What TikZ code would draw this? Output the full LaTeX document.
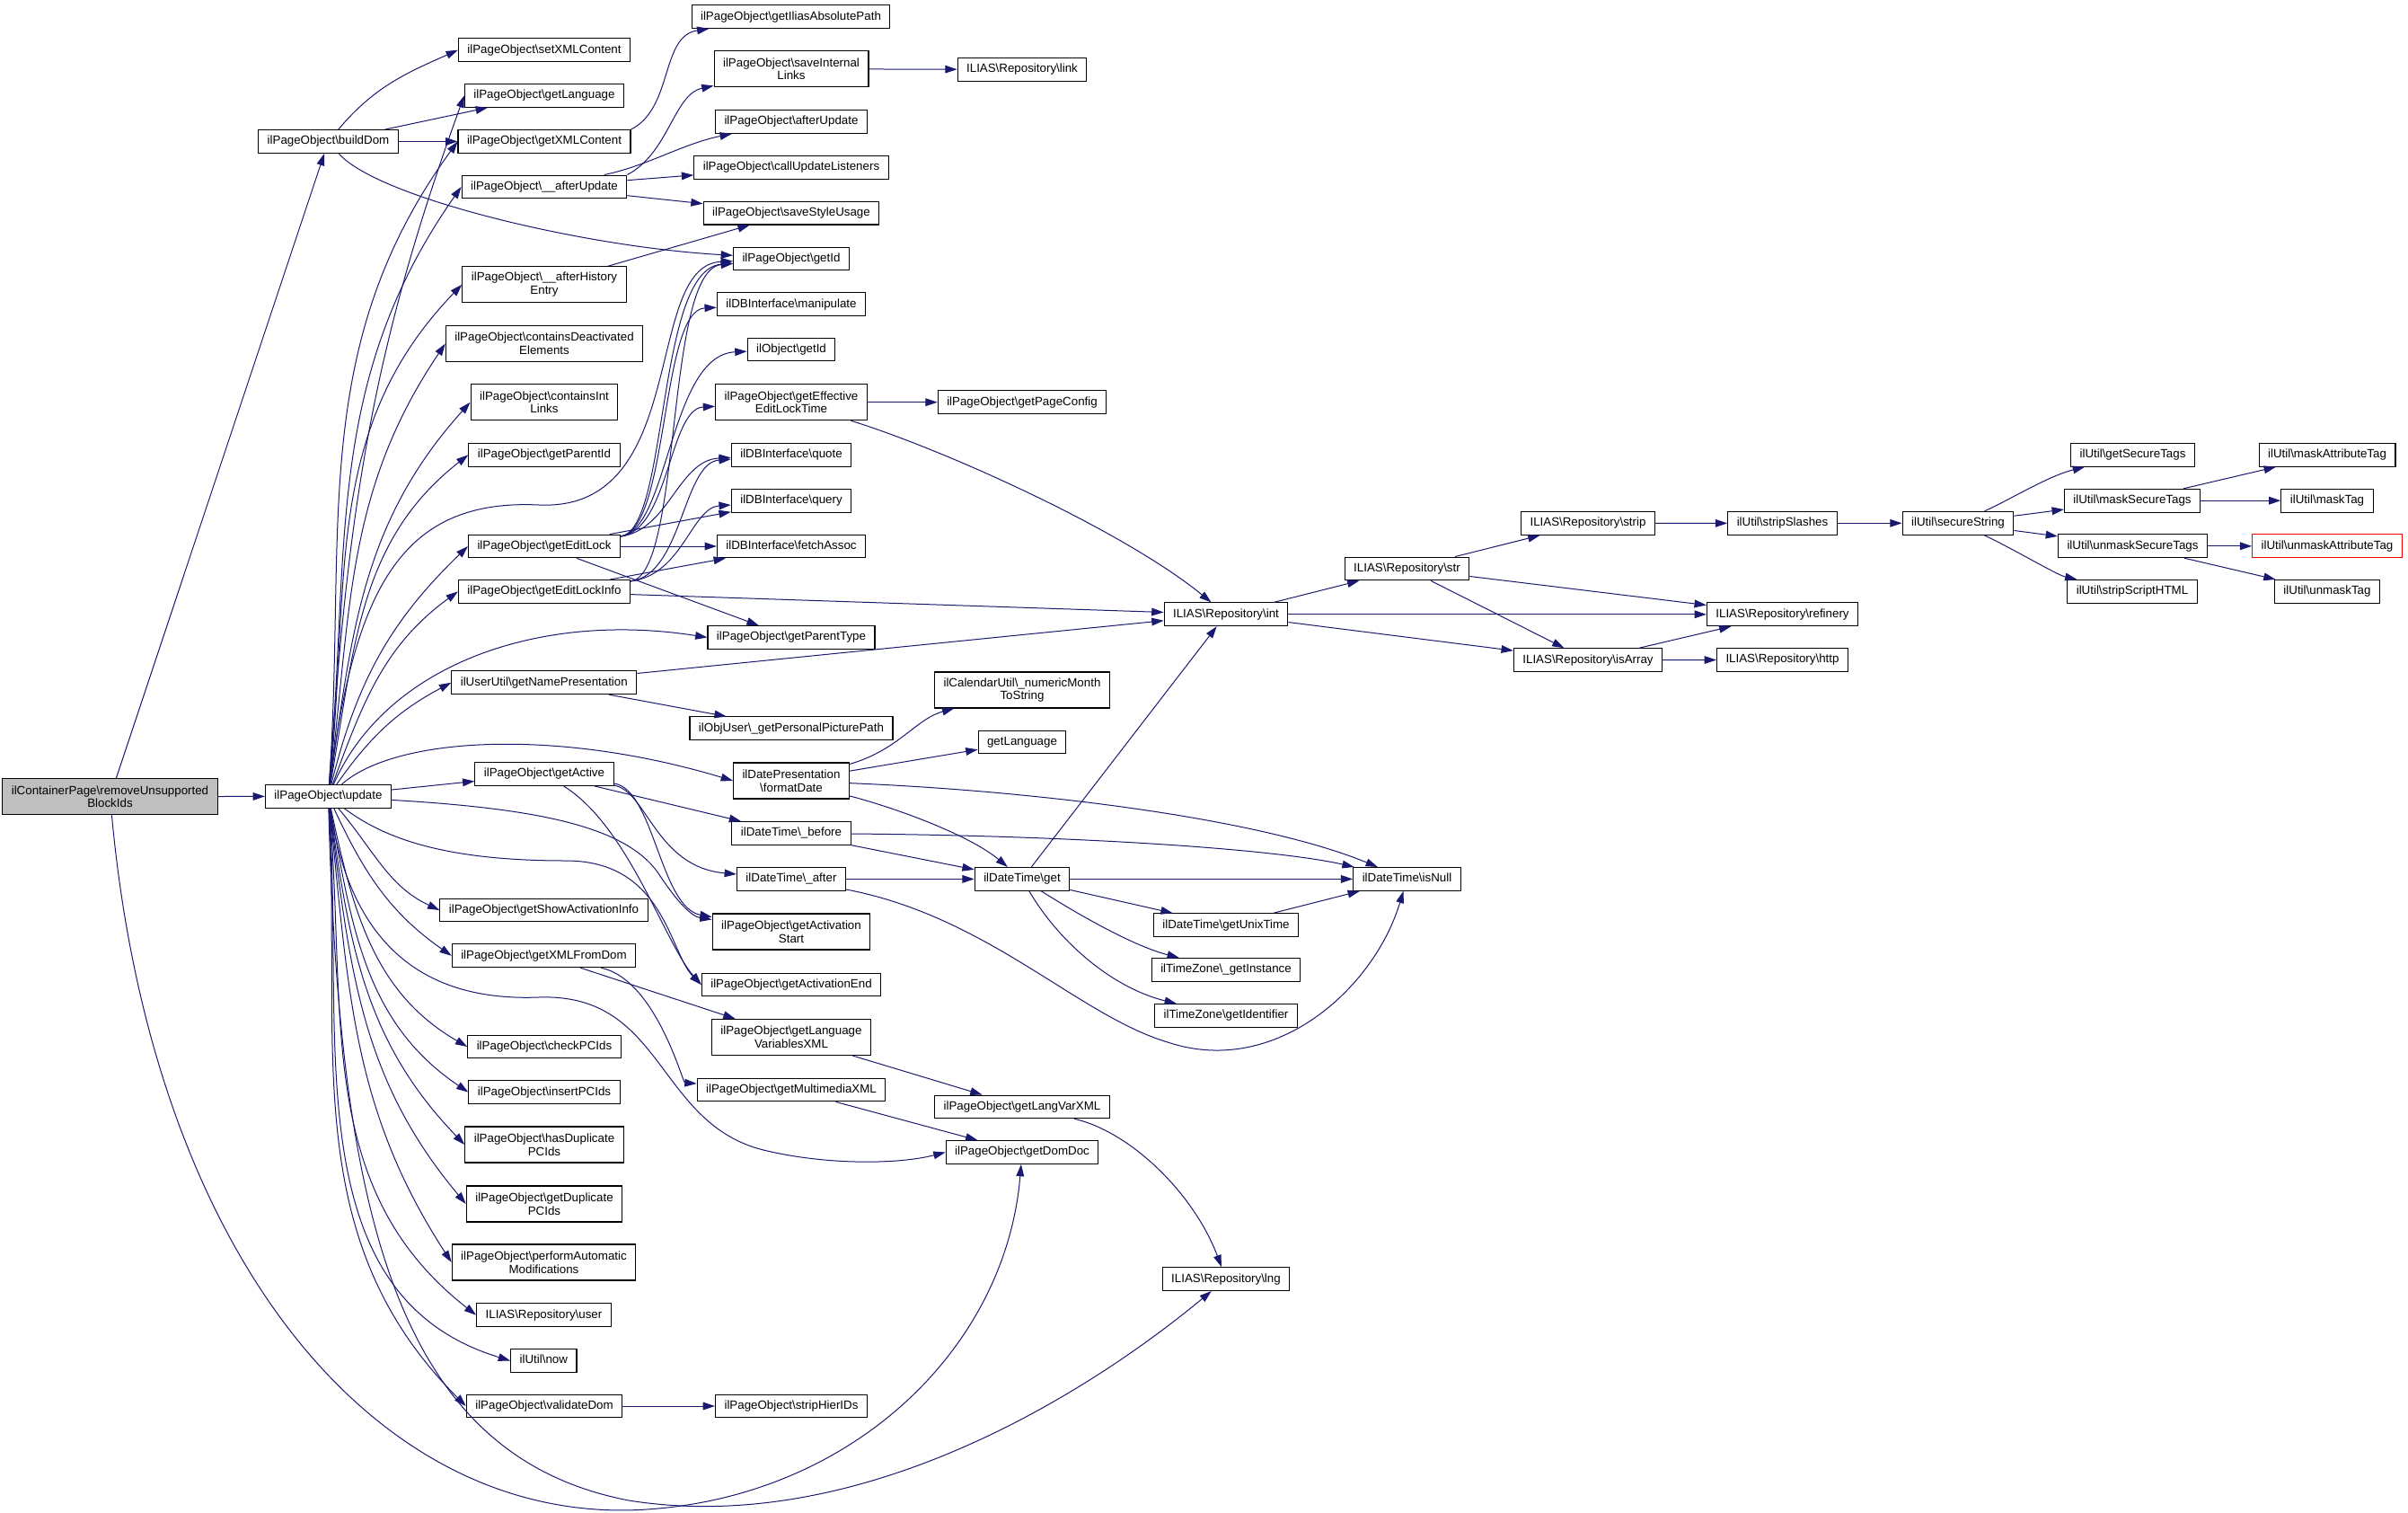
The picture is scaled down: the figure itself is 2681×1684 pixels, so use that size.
\documentclass[tikz,border=0pt]{standalone}
\usepackage{fontspec}
\setmainfont{Liberation Sans}
\usetikzlibrary{arrows.meta}
\definecolor{edgeblue}{RGB}{25,25,112}
\definecolor{rootgray}{RGB}{191,191,191}
\newcommand{\bsl}{\textbackslash}
\begin{document}
\begin{tikzpicture}[x=0.75pt,y=0.75pt,
    fn/.style={draw=black,line width=0.8pt,font=\fontsize{10}{11}\selectfont,inner xsep=7.5pt,inner ysep=2pt,minimum height=19.3pt,text height=7.4pt,text depth=2.2pt},
    fntwo/.style={draw=black,line width=0.8pt,font=\fontsize{10}{11}\selectfont,inner xsep=7.5pt,inner ysep=2pt,minimum height=30pt,align=center},
    call/.style={draw=edgeblue,line width=0.75pt,-{Triangle[length=10pt,width=6.5pt]}}]
      \useasboundingbox (0,0) rectangle (2681,-1684);
      \begin{scope}[every node/.style={fntwo}]
        \node[fill=rootgray] (r_remove) at (122.5,-886.7) {ilContainerPage\bsl{}removeUnsupported\\BlockIds};
        \node (p_afterhist) at (606,-316.8) {ilPageObject\bsl\_\_afterHistory\\Entry};
        \node (p_containsdeact) at (606,-382.5) {ilPageObject\bsl{}containsDeactivated\\Elements};
        \node (p_containsint) at (606,-447.7) {ilPageObject\bsl{}containsInt\\Links};
        \node (p_hasdup) at (606,-1274) {ilPageObject\bsl{}hasDuplicate\\PCIds};
        \node (p_getdup) at (606,-1340) {ilPageObject\bsl{}getDuplicate\\PCIds};
        \node (p_performauto) at (605.5,-1405) {ilPageObject\bsl{}performAutomatic\\Modifications};
        \node (p_saveintlinks) at (881,-76.8) {ilPageObject\bsl{}saveInternal\\Links};
        \node (p_geteffective) at (881,-447.7) {ilPageObject\bsl{}getEffective\\EditLockTime};
        \node (dp_formatdate) at (881,-869) {ilDatePresentation\\\bsl{}formatDate};
        \node (p_getactstart) at (881,-1037) {ilPageObject\bsl{}getActivation\\Start};
        \node (p_getlangvars) at (881,-1154.4) {ilPageObject\bsl{}getLanguage\\VariablesXML};
        \node (cu_nummonth) at (1138,-768) {ilCalendarUtil\bsl\_numericMonth\\ToString};
      \end{scope}
      \begin{scope}[every node/.style={fn}]
        \node (p_builddom) at (365.5,-157.5) {ilPageObject\bsl{}buildDom};
        \node (p_update) at (365.5,-886.3) {ilPageObject\bsl{}update};
        \node (p_setxmlcontent) at (606,-55.7) {ilPageObject\bsl{}setXMLContent};
        \node (p_getlanguage) at (606,-106.4) {ilPageObject\bsl{}getLanguage};
        \node (p_getxmlcontent) at (606,-157.5) {ilPageObject\bsl{}getXMLContent};
        \node (p_afterupd) at (606,-207.9) {ilPageObject\bsl\_\_afterUpdate};
        \node (p_getparentid) at (606,-506.3) {ilPageObject\bsl{}getParentId};
        \node (p_geteditlock) at (606,-608) {ilPageObject\bsl{}getEditLock};
        \node (p_geteditlockinfo) at (606,-658.4) {ilPageObject\bsl{}getEditLockInfo};
        \node (uu_getname) at (605.8,-759.8) {ilUserUtil\bsl{}getNamePresentation};
        \node (p_getactive) at (606,-861.5) {ilPageObject\bsl{}getActive};
        \node (p_getshowact) at (605.5,-1013) {ilPageObject\bsl{}getShowActivationInfo};
        \node (p_getxmlfromdom) at (605.5,-1063.8) {ilPageObject\bsl{}getXMLFromDom};
        \node (p_checkpcids) at (606,-1165) {ilPageObject\bsl{}checkPCIds};
        \node (p_insertpcids) at (606,-1215.6) {ilPageObject\bsl{}insertPCIds};
        \node (r_user) at (605.5,-1463.7) {ILIAS\bsl{}Repository\bsl{}user};
        \node (u_now) at (605.3,-1514.5) {ilUtil\bsl{}now};
        \node (p_validatedom) at (606,-1565) {ilPageObject\bsl{}validateDom};
        \node (p_getiliaspath) at (880.5,-18.6) {ilPageObject\bsl{}getIliasAbsolutePath};
        \node (p_afterupdate) at (881,-135.5) {ilPageObject\bsl{}afterUpdate};
        \node (p_callupdate) at (881,-186.4) {ilPageObject\bsl{}callUpdateListeners};
        \node (p_savestyle) at (881,-237.1) {ilPageObject\bsl{}saveStyleUsage};
        \node (p_getid) at (881,-287.9) {ilPageObject\bsl{}getId};
        \node (db_manipulate) at (881,-338.6) {ilDBInterface\bsl{}manipulate};
        \node (o_getid) at (881,-389) {ilObject\bsl{}getId};
        \node (db_quote) at (881,-506.3) {ilDBInterface\bsl{}quote};
        \node (db_query) at (881,-557.4) {ilDBInterface\bsl{}query};
        \node (db_fetchassoc) at (881,-608) {ilDBInterface\bsl{}fetchAssoc};
        \node (p_getparenttype) at (881,-709.5) {ilPageObject\bsl{}getParentType};
        \node (ou_getpic) at (881,-810.8) {ilObjUser\bsl\_getPersonalPicturePath};
        \node (dt_before) at (881,-927.5) {ilDateTime\bsl\_before};
        \node (dt_after) at (881,-978.4) {ilDateTime\bsl\_after};
        \node (p_getactend) at (881,-1096) {ilPageObject\bsl{}getActivationEnd};
        \node (p_getmedia) at (881,-1213) {ilPageObject\bsl{}getMultimediaXML};
        \node (p_striphier) at (881,-1565) {ilPageObject\bsl{}stripHierIDs};
        \node (r_link) at (1138,-77.3) {ILIAS\bsl{}Repository\bsl{}link};
        \node (p_getpageconfig) at (1138,-447.7) {ilPageObject\bsl{}getPageConfig};
        \node (x_getlanguage) at (1138,-826) {getLanguage};
        \node (dt_get) at (1138,-978.4) {ilDateTime\bsl{}get};
        \node (p_getlangvar) at (1138,-1231.9) {ilPageObject\bsl{}getLangVarXML};
        \node (p_getdomdoc) at (1138,-1282.5) {ilPageObject\bsl{}getDomDoc};
        \node (r_int) at (1365,-683.8) {ILIAS\bsl{}Repository\bsl{}int};
        \node (dt_getunix) at (1365,-1029.7) {ilDateTime\bsl{}getUnixTime};
        \node (tz_getinstance) at (1365,-1079.4) {ilTimeZone\bsl\_getInstance};
        \node (tz_getident) at (1365,-1130.4) {ilTimeZone\bsl{}getIdentifier};
        \node (r_lng) at (1365,-1423.6) {ILIAS\bsl{}Repository\bsl{}lng};
        \node (r_str) at (1566.5,-633) {ILIAS\bsl{}Repository\bsl{}str};
        \node (dt_isnull) at (1566.5,-978.4) {ilDateTime\bsl{}isNull};
        \node (r_strip) at (1768,-582.5) {ILIAS\bsl{}Repository\bsl{}strip};
        \node (r_isarray) at (1768,-734.6) {ILIAS\bsl{}Repository\bsl{}isArray};
        \node (u_stripslashes) at (1984.5,-582.3) {ilUtil\bsl{}stripSlashes};
        \node (r_refinery) at (1984.5,-683.8) {ILIAS\bsl{}Repository\bsl{}refinery};
        \node (r_http) at (1984.5,-734.5) {ILIAS\bsl{}Repository\bsl{}http};
        \node (u_securestring) at (2180,-582.3) {ilUtil\bsl{}secureString};
        \node (u_getsecure) at (2374.5,-506.3) {ilUtil\bsl{}getSecureTags};
        \node (u_masksecure) at (2374,-557.2) {ilUtil\bsl{}maskSecureTags};
        \node (u_unmasksecure) at (2374.5,-607.8) {ilUtil\bsl{}unmaskSecureTags};
        \node (u_stripscript) at (2374,-658.3) {ilUtil\bsl{}stripScriptHTML};
        \node (u_maskattr) at (2591,-506.3) {ilUtil\bsl{}maskAttributeTag};
        \node (u_masktag) at (2591,-557.2) {ilUtil\bsl{}maskTag};
        \node[draw=red] (u_unmaskattr) at (2591,-607.8) {ilUtil\bsl{}unmaskAttributeTag};
        \node (u_unmasktag) at (2591,-658.3) {ilUtil\bsl{}unmaskTag};
      \end{scope}
      \begin{scope}[every edge/.style={call}]
        \path (r_remove) edge (p_update);
        \path (r_remove) edge (p_builddom);

        \path (p_builddom) edge[out=50,in=204] (p_setxmlcontent.west);
        \path (p_builddom) edge (p_getlanguage);
        \path (p_builddom) edge (p_getxmlcontent);

        \path (p_update) edge[out=86,in=250] (p_getlanguage.west);
        \path (p_update) edge[out=86,in=234] (p_getxmlcontent.west);
        \path (p_update) edge[out=85,in=235] (p_afterupd.west);
        \path (p_update) edge[out=84,in=226] (p_afterhist.west);
        \path (p_update) edge[out=83,in=236] (p_containsdeact.west);
        \path (p_update) edge[out=82,in=228] (p_containsint.west);
        \path (p_update) edge[out=80,in=218] (p_getparentid.west);
        \path (p_update) edge[out=76,in=224] (p_geteditlock.west);
        \path (p_update) edge[out=70,in=216] (p_geteditlockinfo.west);
        \path (p_update) edge[out=55,in=208] (uu_getname.west);
        \path (p_update) edge (p_getactive);
        \path (p_update) edge[out=-50,in=155] (p_getshowact.west);
        \path (p_update) edge[out=-65,in=145] (p_getxmlfromdom.west);
        \path (p_update) edge[out=-78,in=150] (p_checkpcids.west);
        \path (p_update) edge[out=-80,in=146] (p_insertpcids.west);
        \path (p_update) edge[out=-82,in=134] (p_hasdup.west);
        \path (p_update) edge[out=-83,in=130] (p_getdup.west);
        \path (p_update) edge[out=-84,in=123] (p_performauto.west);
        \path (p_update) edge[out=-85,in=142] (r_user.west);
        \path (p_update) edge[out=-86,in=163] (u_now.west);
        \path (p_update) edge[out=-87,in=135] (p_validatedom.west);

        \path (p_afterupd) edge (p_callupdate);
        \path (p_afterupd) edge (p_savestyle);
        \path (p_afterhist) edge (p_savestyle);
        \path (p_saveintlinks) edge (r_link);
        \path (p_geteffective) edge (p_getpageconfig);
        \path (p_geteditlock) edge (db_query);
        \path (p_geteditlock) edge (db_fetchassoc);
        \path (p_geteditlock) edge (p_getparenttype);
        \path (p_geteditlockinfo) edge (db_fetchassoc);
        \path (p_geteditlockinfo) edge (r_int);
        \path (uu_getname) edge (ou_getpic);
        \path (uu_getname) edge (r_int);
        \path (p_getactive) edge (dt_before);
        \path (dp_formatdate) edge (x_getlanguage);
        \path (dt_before) edge (dt_get);
        \path (dt_after) edge (dt_get);
        \path (dt_get) edge (r_int);
        \path (dt_get) edge (dt_isnull);
        \path (dt_get) edge (dt_getunix);
        \path (dt_getunix) edge (dt_isnull);
        \path (p_getxmlfromdom) edge (p_getlangvars);
        \path (p_getlangvars) edge (p_getlangvar);
        \path (p_getmedia) edge (p_getdomdoc);
        \path (p_validatedom) edge (p_striphier);

        \path (r_int) edge (r_str);
        \path (r_int) edge (r_refinery);
        \path (r_int) edge (r_isarray);
        \path (r_str) edge (r_strip);
        \path (r_str) edge (r_refinery);
        \path (r_str) edge (r_isarray);
        \path (r_strip) edge (u_stripslashes);
        \path (u_stripslashes) edge (u_securestring);
        \path (u_securestring) edge (u_masksecure);
        \path (u_securestring) edge (u_unmasksecure);
        \path (u_masksecure) edge (u_maskattr);
        \path (u_masksecure) edge (u_masktag);
        \path (u_unmasksecure) edge (u_unmaskattr);
        \path (u_unmasksecure) edge (u_unmasktag);
        \path (r_isarray) edge (r_refinery);
        \path (r_isarray) edge (r_http);
      \end{scope}
      \begin{scope}
        \draw[call] (r_remove) .. controls (170,-1400) and (420,-1700) .. (720,-1680) .. controls (950,-1665) and (1120,-1500) .. (p_getdomdoc);
        \draw[call] (p_update) .. controls (378,-1350) and (440,-1620) .. (700,-1670) .. controls (950,-1710) and (1200,-1560) .. (r_lng);
        \draw[call] (p_update) .. controls (390,-1050) and (470,-1115) .. (600,-1110) .. controls (740,-1105) and (730,-1250) .. (850,-1280) .. controls (920,-1297) and (1000,-1296) .. (p_getdomdoc.west);
        \draw[call] (p_update) .. controls (395,-650) and (450,-555) .. (600,-562) .. controls (770,-570) and (715,-295) .. (p_getid);
        \draw[call] (p_update) .. controls (430,-740) and (600,-680) .. (p_getparenttype.west);
        \draw[call] (p_update) .. controls (440,-820) and (620,-810) .. (dp_formatdate.west);
        \draw[call] (p_update) .. controls (600,-900) and (700,-920) .. (735,-975) .. controls (755,-1005) and (770,-1020) .. (p_getactstart);
        \draw[call] (p_update) .. controls (430,-935) and (500,-958) .. (630,-958) .. controls (740,-958) and (745,-1060) .. (p_getactend.west);

        \draw[call] (p_builddom) .. controls (420,-220) and (650,-275) .. (p_getid);
        \draw[call] (p_getxmlcontent.north east) .. controls (750,-120) and (735,-40) .. (p_getiliaspath);
        \draw[call] (p_afterupd.north east) .. controls (745,-170) and (750,-105) .. (p_saveintlinks);
        \draw[call] (p_afterupd) .. controls (720,-185) and (760,-160) .. (p_afterupdate);

        \draw[call] (p_geteditlock) .. controls (745,-590) and (730,-300) .. (p_getid);
        \draw[call] (p_geteditlock) .. controls (745,-590) and (735,-345) .. (db_manipulate);
        \draw[call] (p_geteditlock) .. controls (745,-590) and (745,-395) .. (o_getid);
        \draw[call] (p_geteditlock) .. controls (745,-590) and (745,-455) .. (p_geteffective);
        \draw[call] (p_geteditlock) .. controls (745,-590) and (755,-512) .. (db_quote);
        \draw[call] (p_geteditlockinfo) .. controls (760,-640) and (740,-300) .. (p_getid);
        \draw[call] (p_geteditlockinfo) .. controls (760,-640) and (760,-515) .. (db_quote);
        \draw[call] (p_geteditlockinfo) .. controls (760,-640) and (770,-565) .. (db_query);
        \draw[call] (p_geteffective) .. controls (1050,-500) and (1250,-590) .. (r_int);

        \draw[call] (p_getactive) .. controls (720,-880) and (730,-965) .. (dt_after);
        \draw[call] (p_getactive) .. controls (728,-878) and (735,-1010) .. (p_getactstart);
        \draw[call] (p_getactive) .. controls (700,-920) and (740,-1050) .. (p_getactend.west);
        \draw[call] (dp_formatdate) .. controls (1000,-835) and (1020,-800) .. (cu_nummonth);
        \draw[call] (dp_formatdate) .. controls (1000,-900) and (1080,-930) .. (dt_get);
        \draw[call] (dp_formatdate) .. controls (1150,-880) and (1400,-910) .. (dt_isnull);
        \draw[call] (dt_before) .. controls (1200,-930) and (1420,-945) .. (dt_isnull);
        \draw[call] (dt_after) .. controls (1100,-1020) and (1200,-1130) .. (1300,-1160) .. controls (1420,-1200) and (1530,-1100) .. (dt_isnull);
        \draw[call] (dt_get) .. controls (1220,-1030) and (1270,-1055) .. (tz_getinstance);
        \draw[call] (dt_get) .. controls (1180,-1050) and (1240,-1100) .. (tz_getident);
        \draw[call] (p_getxmlfromdom) .. controls (730,-1090) and (760,-1205) .. (p_getmedia);
        \draw[call] (p_getlangvar) .. controls (1260,-1260) and (1330,-1330) .. (r_lng);
        \draw[call] (u_securestring) .. controls (2240,-555) and (2280,-530) .. (u_getsecure);
        \draw[call] (u_securestring) .. controls (2240,-610) and (2290,-640) .. (u_stripscript);
      \end{scope}
\end{tikzpicture}
\end{document}
